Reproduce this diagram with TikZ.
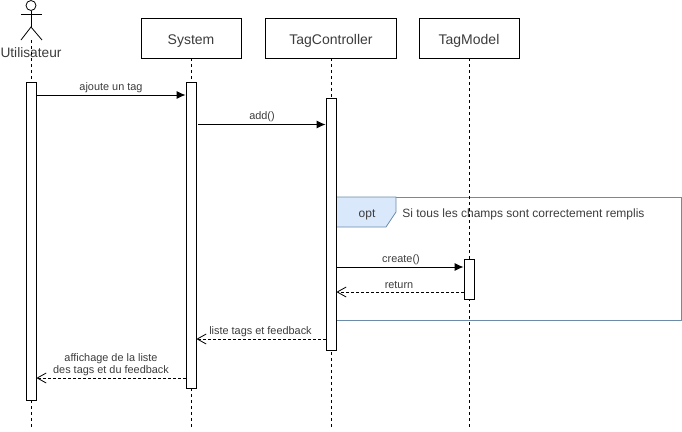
\documentclass[tikz,border=0pt]{standalone}
\usepackage{fontspec}
\setmainfont{Liberation Sans}
\usetikzlibrary{arrows.meta}
\definecolor{txt}{HTML}{3C3C3C}
\definecolor{optfill}{HTML}{DAE8FC}
\definecolor{optline}{HTML}{6A8CA8}
\tikzset{
  every path/.style={line width=.8pt},
  head/.style={draw,fill=white,minimum width=100pt,minimum height=40pt,inner sep=0pt,text=txt,text height=13pt,text depth=1pt,font=\fontsize{14}{16}\selectfont},
  activ/.style={draw,fill=white,minimum width=10pt,inner sep=0pt},
  life/.style={dash pattern=on 3pt off 3pt},
  call/.style={-{Latex[length=9pt,width=8pt]},line width=1pt},
  reply/.style={dash pattern=on 3pt off 2pt,-{Straight Barb[length=9pt,width=10pt]}},
  lbl/.style={text=txt,font=\fontsize{10.9}{12.6}\selectfont,inner sep=0pt,align=center},
}
\begin{document}
\begin{tikzpicture}[x=1pt,y=-1pt]
      \useasboundingbox (0,0) rectangle (682,431);

      % heads
      \node[head] (system) at (191,38) {System};
      \node[head,minimum width=131pt] (ctrl) at (331,38) {TagController};
      \node[head] (model) at (469,38) {TagModel};

      % actor
      \node[draw,circle,minimum size=10pt,inner sep=0pt] (face) at (31,5.5) {};
      \coordinate (hip) at (31,27);
      \draw (face) -- (hip);
      \draw (21,14) -- (42,14);
      \draw (21,40) -- (hip) -- (42,40);
      \node[text=txt,font=\fontsize{13.7}{16}\selectfont,inner sep=0pt] (user) at (31,52.5) {Utilisateur};

      % lifelines
      \coordinate (endu) at (31,428);
      \coordinate (ends) at (191,428);
      \coordinate (endc) at (331,428);
      \coordinate (endm) at (469,428);
      \draw[life] (31,40) -- (endu);
      \draw[life] (system) -- (ends);
      \draw[life] (ctrl) -- (endc);

      % opt frame
      \draw[optline] (336,197) rectangle (681,320);
      \draw[optline,fill=optfill] (336,197) -- (396,197) -- (396,212) -- (386,227) -- (336,227) -- cycle;
      \node[text=txt,font=\fontsize{12}{14}\selectfont,inner sep=0pt] (optname) at (367,214.5) {opt};
      \node[text=txt,font=\fontsize{12}{14}\selectfont,inner sep=0pt,anchor=west] (optcond) at (402,214.5) {Si tous les champs sont correctement remplis};
      \draw[life] (model) -- (endm);

      % activations
      \node[activ,minimum height=318pt] (au) at (31,241) {};
      \node[activ,minimum height=306pt] (as) at (191,235) {};
      \node[activ,minimum height=252pt] (ac) at (331,224) {};
      \node[activ,minimum height=40pt] (am) at (469,279) {};

      % messages
      \draw[call] (au.east |- 0,95) -- (as.west |- 0,95);
      \draw[call] (as.east |- 0,124.5) ++(2,0) -- (ac.west |- 0,124.5);
      \draw[call] (ac.east |- 0,267) ++(1,0) -- (am.west |- 0,267);
      \draw[reply] (am.west |- 0,292) -- (ac.east |- 0,292);
      \draw[reply] (ac.west |- 0,339) -- (as.east |- 0,339);
      \draw[reply] (as.west |- 0,378) -- (au.east |- 0,378);

      % labels
      \node[lbl] (m1) at (111,88) {ajoute un tag};
      \node[lbl] (m2) at (262,117) {add()};
      \node[lbl] (m3) at (401,260) {create()};
      \node[lbl] (m4) at (399,285) {return};
      \node[lbl] (m5) at (260.5,331.5) {liste tags et feedback};
      \node[lbl] (m6) at (111,364.5) {affichage de la liste\\des tags et du feedback};
\end{tikzpicture}
\end{document}
